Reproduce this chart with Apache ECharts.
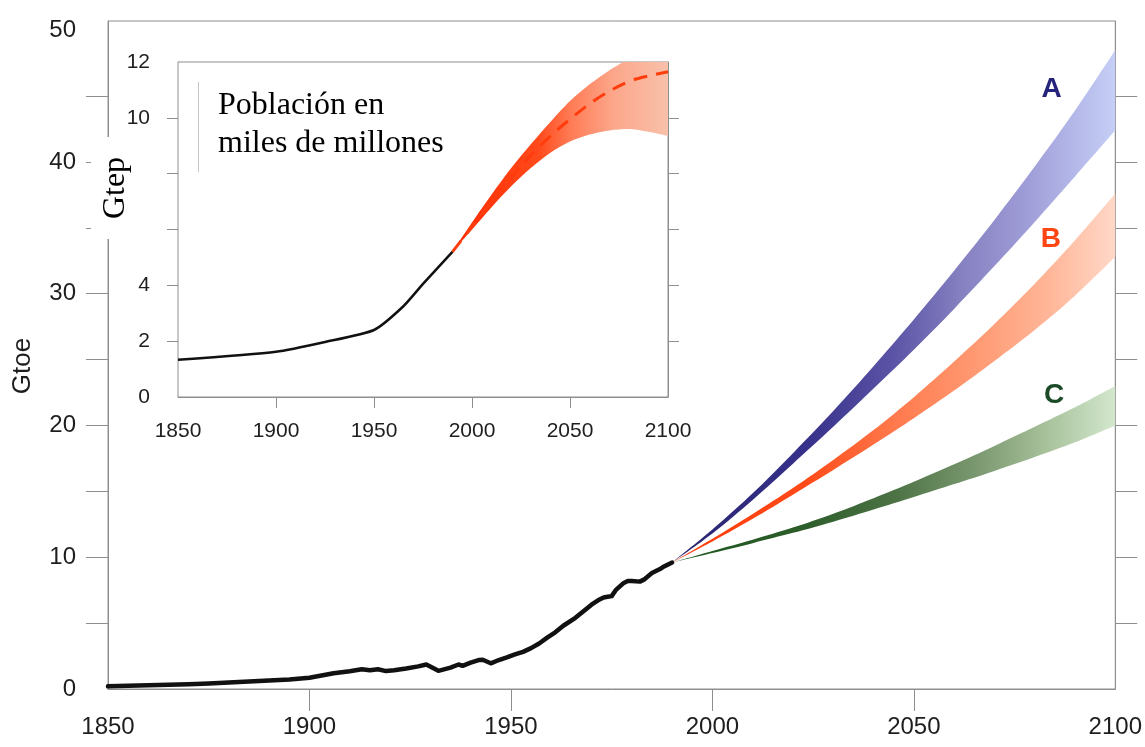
<!DOCTYPE html>
<html>
<head>
<meta charset="utf-8">
<script src="https://cdn.jsdelivr.net/npm/echarts@6/dist/echarts.min.js"></script>
<style>
  html, body { margin: 0; padding: 0; background: #ffffff; }
  #chart { width: 1145px; height: 747px; }
</style>
</head>
<body>
<div id="chart"></div>
<script>
// World primary energy use (Gtoe), 1850-1990
const histYears = [1850, 1855, 1860, 1865, 1870, 1875, 1880, 1885, 1890, 1895, 1900, 1903, 1906, 1910, 1913,
  1915, 1917, 1919, 1921, 1924, 1927, 1929, 1932, 1935, 1937, 1938, 1940, 1942, 1943, 1945, 1947, 1949,
  1951, 1953, 1955, 1957, 1959, 1961, 1963, 1966, 1968, 1970, 1972, 1973, 1974, 1975, 1976, 1978, 1979,
  1980, 1982, 1983, 1985, 1987, 1988, 1990];
const histEnergy = [0.2, 0.24, 0.28, 0.32, 0.36, 0.42, 0.5, 0.56, 0.64, 0.72, 0.85, 1.02, 1.2, 1.35, 1.5,
  1.42, 1.5, 1.36, 1.42, 1.55, 1.72, 1.86, 1.38, 1.62, 1.86, 1.76, 2.0, 2.2, 2.22, 1.95, 2.2, 2.4,
  2.62, 2.82, 3.1, 3.45, 3.9, 4.3, 4.8, 5.4, 5.9, 6.4, 6.8, 6.95, 7.0, 7.05, 7.5, 8.05, 8.2,
  8.2, 8.15, 8.3, 8.8, 9.1, 9.3, 9.6];

// Scenario ranges A, B, C (Gtoe), 1990-2100
const scenYears = [1990, 2000, 2010, 2020, 2030, 2040, 2050, 2060, 2070, 2080, 2090, 2100];
const scenALow  = [9.6, 11.8, 14.35, 17.1, 19.9, 22.8, 25.75, 28.85, 32.1, 35.45, 38.9, 42.4];
const scenAHigh = [9.6, 12.1, 14.85, 17.9, 21.1, 24.5, 28.05, 31.75, 35.6, 39.65, 43.9, 48.5];
const scenBLow  = [9.6, 11.2, 12.92, 14.75, 16.62, 18.55, 20.55, 22.65, 24.9, 27.25, 29.85, 32.8];
const scenBHigh = [9.6, 11.4, 13.28, 15.25, 17.38, 19.65, 22.15, 24.85, 27.7, 30.75, 34.05, 37.6];
const scenCLow  = [9.6, 10.32, 11.07, 11.85, 12.7, 13.62, 14.57, 15.55, 16.55, 17.6, 18.72, 20.0];
const scenCHigh = [9.6, 10.48, 11.33, 12.25, 13.3, 14.48, 15.73, 17.05, 18.45, 19.9, 21.38, 23.0];
const scenarioNames = ['A', 'B', 'C'];

// World population (billions)
const popHistYears = [1850, 1900, 1925, 1950, 1965, 1975, 1990];
const popHist = [1.33, 1.62, 1.97, 2.4, 3.25, 4.05, 5.2];
const popProjYears = [1990, 2000, 2010, 2020, 2030, 2040, 2050, 2060, 2070, 2080, 2090, 2100];
const popLow  = [5.2, 6.0, 6.8, 7.55, 8.2, 8.75, 9.15, 9.4, 9.55, 9.6, 9.5, 9.35];
const popMid  = [5.2, 6.1, 7.0, 7.85, 8.65, 9.35, 9.95, 10.5, 10.95, 11.3, 11.5, 11.65];
const popHigh = [5.2, 6.25, 7.25, 8.2, 9.05, 9.85, 10.6, 11.2, 11.7, 12.1, 12.4, 12.6];

// Axis ticks and labels
const yearLabels = [1850, 1900, 1950, 2000, 2050, 2100];
const yearTicks = [1900, 1950, 2000, 2050];
const energyLabels = [0, 10, 20, 30, 40, 50];
const energyTicks = [5, 10, 15, 20, 25, 30, 35, 40, 45];
const popLabels = [0, 2, 4, 10, 12];
const popTicks = [2, 4, 6, 8, 10];

// Where the scenario letters sit (year, Gtoe)
const scenarioLabelAt = [[2084.2, 45.5], [2084.0, 34.1], [2084.8, 22.3]];
const scenarioLabelColors = ['#25237a', '#ff4512', '#1b4a26'];

const pairs = (xs, ys) => xs.map((x, i) => [x, ys[i]]);

const AXIS_GREY = '#8e8e8e';
const TEXT_DARK = '#1e1e1e';
const SANS = '"Liberation Sans", Arial, Helvetica, sans-serif';
const SERIF = '"Liberation Serif", "Times New Roman", serif';

function grad(stops) {
  return new echarts.graphic.LinearGradient(0, 0, 1, 0,
    stops.map(s => ({ offset: s[0], color: s[1] })));
}

// A shaded range: an invisible lower line plus the stacked width, filled with a gradient.
// Values are stored first in each row so that stacking happens on the value axis.
function band(id, years, low, high, stops, xi, yi, z) {
  const stack = 'range' + id;
  const common = {
    type: 'line', xAxisIndex: xi, yAxisIndex: yi, stack: stack,
    encode: { x: 1, y: 0 }, symbol: 'none', smooth: 0.3, silent: true,
    lineStyle: { width: 0, opacity: 0 }, z: z
  };
  return [
    Object.assign({}, common, { data: pairs(low, years) }),
    Object.assign({}, common, {
      data: pairs(high.map((h, i) => h - low[i]), years),
      areaStyle: { color: grad(stops), opacity: 1 }
    })
  ];
}

const chart = echarts.init(document.getElementById('chart'), null, { renderer: 'canvas' });

const mainLabel = { color: TEXT_DARK, fontFamily: SANS, fontSize: 24 };
const insetLabel = { color: TEXT_DARK, fontFamily: SANS, fontSize: 21 };

const option = {
  backgroundColor: '#ffffff',
  animation: false,
  grid: [
    { left: 108, right: 29, top: 21, bottom: 58, show: true, borderColor: AXIS_GREY, borderWidth: 1, backgroundColor: 'transparent' },
    { left: 178, right: 477, top: 62, bottom: 350, show: true, borderColor: AXIS_GREY, borderWidth: 1, backgroundColor: '#ffffff', z: 3 }
  ],
  xAxis: [
    {
      type: 'value', gridIndex: 0, min: 1850, max: 2100, interval: 50,
      axisLine: { show: true, lineStyle: { color: AXIS_GREY, width: 1 } },
      axisTick: { show: true, inside: false, length: 22, customValues: yearTicks, lineStyle: { color: AXIS_GREY } },
      axisLabel: Object.assign({ margin: 26, customValues: yearLabels, formatter: v => String(v) }, mainLabel),
      splitLine: { show: false }
    },
    {
      type: 'value', gridIndex: 1, min: 1850, max: 2100, interval: 50,
      axisLine: { show: true, lineStyle: { color: AXIS_GREY, width: 1 } },
      axisTick: { show: true, length: 11, customValues: yearTicks, lineStyle: { color: AXIS_GREY } },
      axisLabel: Object.assign({ margin: 24, customValues: yearLabels, formatter: v => String(v) }, insetLabel),
      splitLine: { show: false }
    }
  ],
  yAxis: [
    {
      type: 'value', gridIndex: 0, min: 0, max: 50.7, interval: 5, position: 'left',
      axisLine: { show: true, lineStyle: { color: AXIS_GREY, width: 1 } },
      axisTick: { show: true, length: 22, customValues: energyTicks, lineStyle: { color: AXIS_GREY } },
      axisLabel: Object.assign({ margin: 32, customValues: energyLabels }, mainLabel),
      splitLine: { show: false }
    },
    {
      type: 'value', gridIndex: 0, min: 0, max: 50.7, interval: 5, position: 'right',
      axisLine: { show: true, lineStyle: { color: AXIS_GREY, width: 1 } },
      axisTick: { show: true, length: 22, customValues: energyTicks, lineStyle: { color: AXIS_GREY } },
      axisLabel: { show: false },
      splitLine: { show: false }
    },
    {
      type: 'value', gridIndex: 1, min: 0, max: 12, interval: 2, position: 'left',
      axisLine: { show: true, lineStyle: { color: AXIS_GREY, width: 1 } },
      axisTick: { show: true, length: 11, customValues: popTicks, lineStyle: { color: AXIS_GREY } },
      axisLabel: Object.assign({ margin: 28, customValues: popLabels }, insetLabel),
      splitLine: { show: false }
    },
    {
      type: 'value', gridIndex: 1, min: 0, max: 12, interval: 2, position: 'right',
      axisLine: { show: true, lineStyle: { color: AXIS_GREY, width: 1 } },
      axisTick: { show: true, length: 11, customValues: popTicks, lineStyle: { color: AXIS_GREY } },
      axisLabel: { show: false },
      splitLine: { show: false }
    }
  ],
  series: [
    ...band('A', scenYears, scenALow, scenAHigh,
      [[0, '#29236e'], [0.3, '#36308a'], [0.5, '#5b54a6'], [0.65, '#8580c0'], [0.8, '#9f9dd8'], [1, '#c6cff6']], 0, 0, 2),
    ...band('B', scenYears, scenBLow, scenBHigh,
      [[0, '#ff3a0a'], [0.3, '#ff4a18'], [0.5, '#ff794c'], [0.7, '#ff9c76'], [0.85, '#ffb698'], [1, '#ffd8c8']], 0, 0, 2),
    ...band('C', scenYears, scenCLow, scenCHigh,
      [[0, '#1e561e'], [0.3, '#2d5d2b'], [0.5, '#4c7244'], [0.7, '#7e9b73'], [0.85, '#a9c39d'], [1, '#d3e7cd']], 0, 0, 2),
    {
      name: 'Gtoe', type: 'line', xAxisIndex: 0, yAxisIndex: 0,
      data: pairs(histYears, histEnergy), symbol: 'none', smooth: false,
      lineStyle: { color: '#111111', width: 4.5, join: 'round', cap: 'round' }, z: 5
    },
    {
      type: 'scatter', xAxisIndex: 0, yAxisIndex: 0, symbol: 'circle', symbolSize: 2, silent: true, z: 6,
      itemStyle: { color: 'rgba(255,255,255,0)', opacity: 1 },
      data: scenarioLabelAt.map((p, i) => ({
        value: p, name: scenarioNames[i],
        label: { color: scenarioLabelColors[i] }
      })),
      label: {
        show: true, position: 'inside', formatter: p => p.name, opacity: 1,
        fontFamily: SANS, fontSize: 28, fontWeight: 'bold',
        textBorderWidth: 0, textShadowBlur: 0
      }
    },
    ...band('P', popProjYears, popLow, popHigh,
      [[0, '#ff2a00'], [0.4, '#ff4a1c'], [0.55, '#ff7c56'], [0.75, '#fca78b'], [1, '#f9c0aa']], 1, 2, 6),
    {
      type: 'line', xAxisIndex: 1, yAxisIndex: 2,
      data: pairs(popProjYears, popMid), symbol: 'none', smooth: 0.35, silent: true,
      lineStyle: { color: '#ff3c0c', width: 3, type: [14, 9] }, z: 7
    },
    {
      type: 'line', xAxisIndex: 1, yAxisIndex: 2,
      data: pairs(popHistYears, popHist), symbol: 'none', smooth: 0.2, silent: true,
      lineStyle: { color: '#111111', width: 2.5 }, z: 8
    }
  ],
  graphic: [
    {
      type: 'text', x: 23, y: 366, rotation: Math.PI / 2, z: 100,
      style: { text: 'Gtoe', font: '26px ' + SANS, fill: TEXT_DARK, align: 'center', verticalAlign: 'middle' }
    },
    { type: 'rect', shape: { x: 91, y: 137, width: 61, height: 102 }, style: { fill: '#ffffff' }, z: 100 },
    {
      type: 'text', x: 116, y: 188, rotation: Math.PI / 2, z: 101,
      style: { text: 'Gtep', font: '32px ' + SERIF, fill: '#000000', align: 'center', verticalAlign: 'middle' }
    },
    { type: 'rect', shape: { x: 198, y: 82, width: 257, height: 91 }, style: { fill: '#ffffff' }, z: 100 },
    { type: 'line', shape: { x1: 198.5, y1: 82, x2: 198.5, y2: 172 }, style: { stroke: '#c4c4c4', lineWidth: 1 }, z: 101 },
    {
      type: 'text', x: 218, y: 87, z: 101,
      style: { text: 'Población en\nmiles de millones', font: '32px ' + SERIF, lineHeight: 38, fill: '#000000', align: 'left', verticalAlign: 'top' }
    }
  ]
};

chart.setOption(option);
</script>
</body>
</html>
